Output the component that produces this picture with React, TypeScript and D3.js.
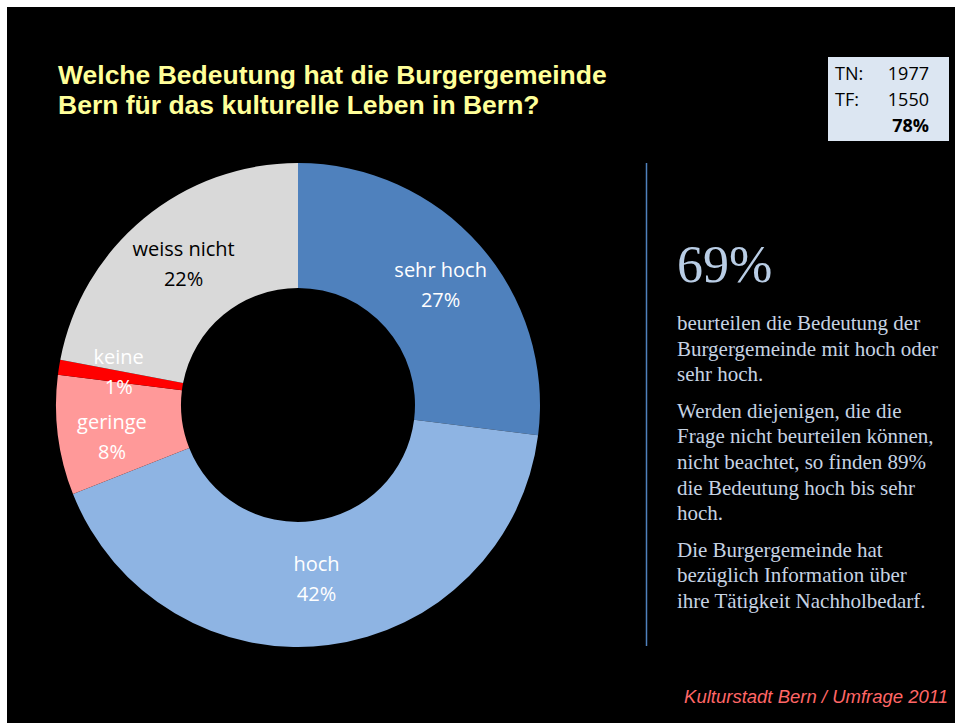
import React from "react";
import * as d3 from "d3";

const categories = ["sehr hoch", "hoch", "geringe", "keine", "weiss nicht"];
const values = [27, 42, 8, 1, 22];
const sliceColors = ["#4F81BD", "#8EB4E3", "#FF9999", "#FF0000", "#D9D9D9"];
const labelColors = ["#FFFFFF", "#FFFFFF", "#FFFFFF", "#FFFFFF", "#000000"];
const labelShiftX = [8, -4, -8, -2, 0];
const labelShiftY = [-5, -8, 6, -9, -7];

const titleLines = ["Welche Bedeutung hat die Burgergemeinde", "Bern für das kulturelle Leben in Bern?"];
const boxRows = [["TN:", "1977"], ["TF:", "1550"], ["", "78%"]];
const headline = "69%";
const paragraphs = [
  ["beurteilen die Bedeutung der", "Burgergemeinde mit hoch oder", "sehr hoch."],
  ["Werden diejenigen, die die", "Frage nicht beurteilen können,", "nicht beachtet, so finden 89%", "die Bedeutung hoch bis sehr", "hoch."],
  ["Die Burgergemeinde hat", "bezüglich Information über", "ihre Tätigkeit Nachholbedarf."],
];
const footer = "Kulturstadt Bern / Umfrage 2011";

export default function App() {
  const W = 955, H = 723;
  const cx = 298, cy = 405, rOuter = 242, rInner = 117;
  const pie = d3.pie<number>().sort(null).value((d) => d).startAngle(0).endAngle(2 * Math.PI);
  const arcs = pie(values);
  const arc = d3.arc<d3.PieArcDatum<number>>().innerRadius(rInner).outerRadius(rOuter);

  let y = 330;
  const lh = 25.6;
  const paraEls: React.ReactNode[] = [];
  paragraphs.forEach((p, pi) => {
    p.forEach((line, li) => {
      paraEls.push(
        <text key={`${pi}-${li}`} x={677} y={y} fontFamily="'Liberation Serif', serif" fontSize={21} fill="#C6D3E3">{line}</text>
      );
      y += lh;
    });
    y += 11;
  });

  return (
    <svg width={W} height={H} style={{ position: "absolute", left: 0, top: 0, background: "#fff" }}>
      <rect x={7} y={7} width={W - 7} height={H - 7} fill="#000" />
      {titleLines.map((t, i) => (
        <text key={i} x={58} y={84 + i * 30} fontFamily="'Liberation Sans', Arial, sans-serif" fontWeight="bold" fontSize={26.5} fill="#FFFF99">{t}</text>
      ))}
      <rect x={828} y={57} width={121} height={84} fill="#DCE6F2" />
      {boxRows.map((r, i) => (
        <g key={i} fontFamily="'Open Sans', sans-serif" fontSize={18} fill="#000">
          <text x={835} y={80 + i * 26}>{r[0]}</text>
          <text x={929} y={80 + i * 26} textAnchor="end" fontWeight={i === 2 ? "bold" : "normal"}>{r[1]}</text>
        </g>
      ))}
      <g transform={`translate(${cx},${cy})`}>
        {arcs.map((a, i) => (
          <path key={i} d={arc(a) || ""} fill={sliceColors[i]} />
        ))}
        {arcs.map((a, i) => {
          const [cxl, cyl] = arc.centroid(a);
          const lx = cxl + labelShiftX[i];
          const ly = cyl + labelShiftY[i];
          return (
            <text key={"l" + i} x={lx} y={ly} textAnchor="middle" fontFamily="'Open Sans', sans-serif" fontSize={20} fill={labelColors[i]}>
              <tspan x={lx} dy={-4}>{categories[i]}</tspan>
              <tspan x={lx} dy={30}>{values[i]}%</tspan>
            </text>
          );
        })}
      </g>
      <line x1={646.5} x2={646.5} y1={163} y2={646} stroke="#4F81BD" strokeWidth={1.5} />
      <text x={677} y={282} fontFamily="'Liberation Serif', serif" fontSize={52} fill="#B9CDE5">{headline}</text>
      {paraEls}
      <text x={948} y={703} textAnchor="end" fontFamily="'Liberation Sans', Arial, sans-serif" fontStyle="italic" fontSize={18.5} fill="#FF6666">{footer}</text>
    </svg>
  );
}
